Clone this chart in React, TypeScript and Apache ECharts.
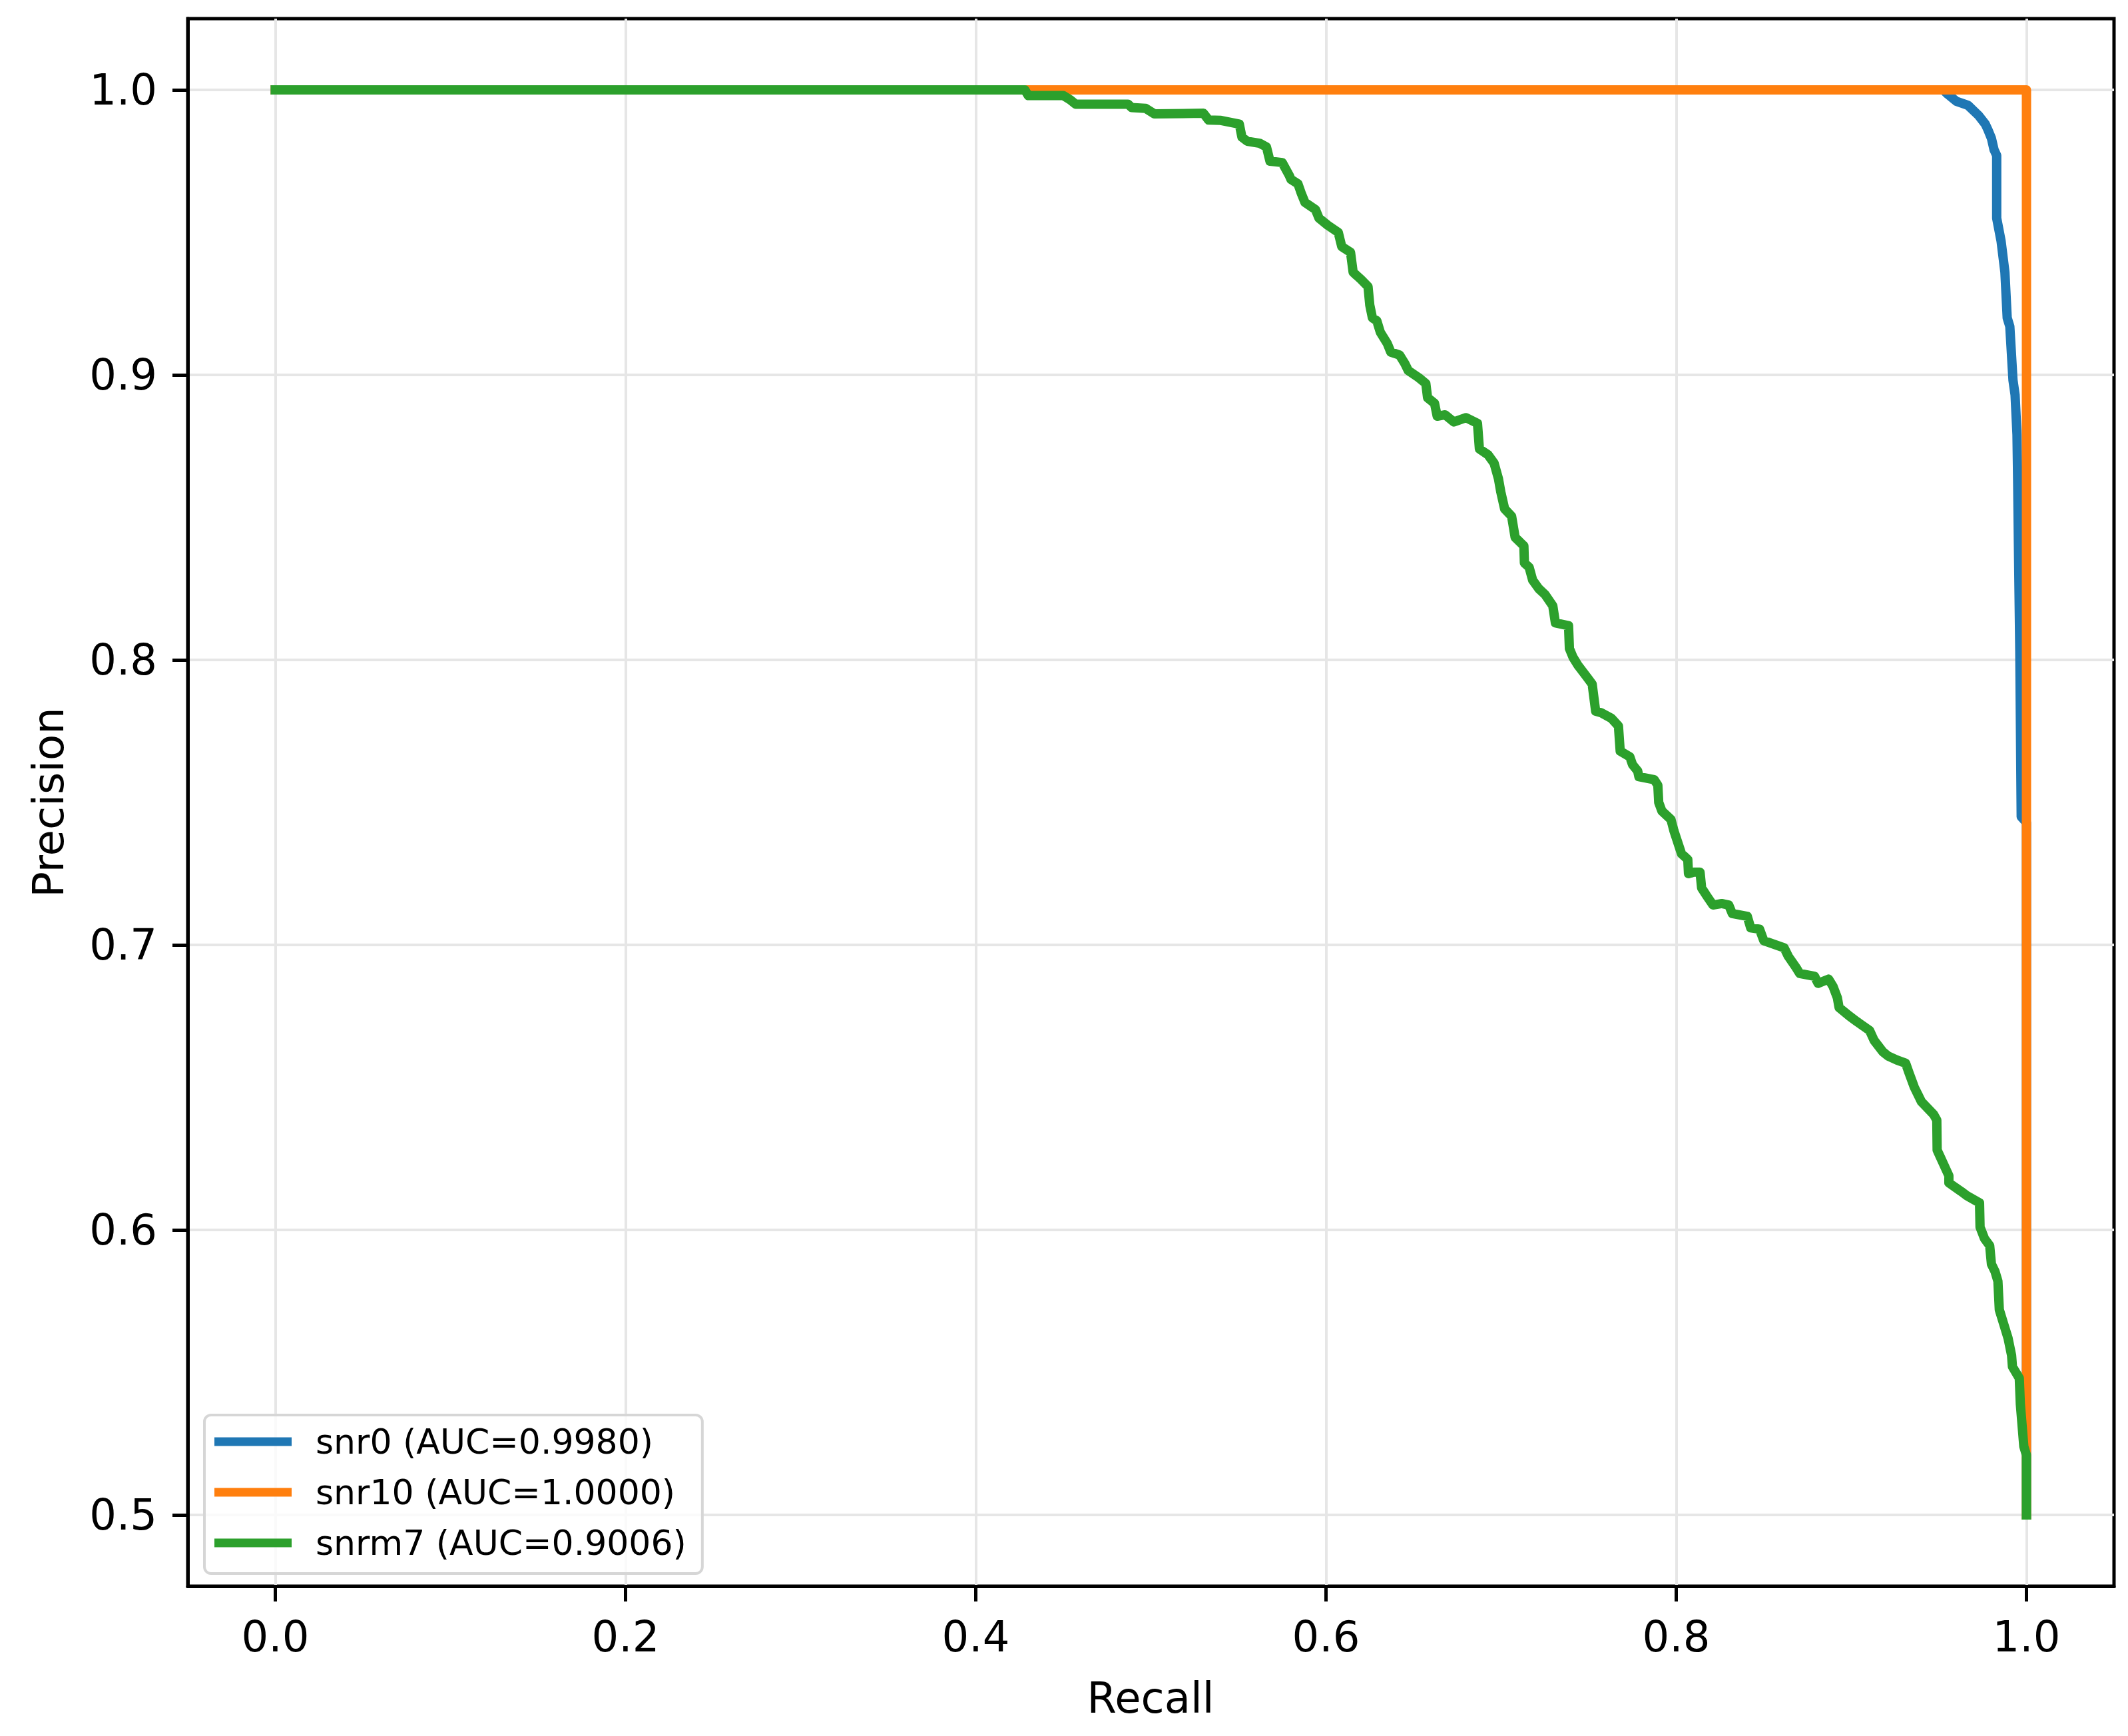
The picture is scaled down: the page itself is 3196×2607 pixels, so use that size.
import React, { useEffect, useRef } from "react";
import * as echarts from "echarts";

const FONT = "DejaVu Sans";

const xTicks = [0, 0.2, 0.4, 0.6, 0.8, 1.0];
const yTicks = [0.5, 0.6, 0.7, 0.8, 0.9, 1.0];

const seriesNames = ["snr0 (AUC=0.9980)", "snr10 (AUC=1.0000)", "snrm7 (AUC=0.9006)"];
const seriesColors = ["#1f77b4", "#ff7f0e", "#2ca02c"];

const snr0Recall = [0, 0.9525, 0.955, 0.96, 0.9666, 0.9727, 0.9765, 0.978, 0.98, 0.9815, 0.983, 0.983, 0.9855, 0.9877, 0.989, 0.9905, 0.9923, 0.9935, 0.9946, 0.995, 0.9954, 0.9962, 0.997, 1.0, 1.0];
const snr0Precision = [1, 1, 0.9985, 0.996, 0.9946, 0.991, 0.988, 0.986, 0.983, 0.979, 0.977, 0.955, 0.947, 0.936, 0.92, 0.917, 0.8982, 0.893, 0.879, 0.862, 0.841, 0.803, 0.745, 0.743, 0.5];

const snr10Recall = [0, 1.0, 1.0];
const snr10Precision = [1.0, 1.0, 0.5];

const snrm7Recall = [
  0, 0.428, 0.43, 0.45, 0.454, 0.457, 0.487, 0.489, 0.497, 0.502, 0.53, 0.533, 0.54, 0.5505,
  0.552, 0.555, 0.562, 0.566, 0.568, 0.575, 0.579, 0.58, 0.584, 0.586, 0.588, 0.594, 0.596,
  0.601, 0.607, 0.609, 0.614, 0.6155, 0.62, 0.624, 0.625, 0.6265, 0.629, 0.631, 0.635, 0.637,
  0.642, 0.645, 0.647, 0.653, 0.657, 0.658, 0.662, 0.6635, 0.668, 0.673, 0.68, 0.6865, 0.6876,
  0.6925, 0.696, 0.6985, 0.6998, 0.702, 0.706, 0.708, 0.713, 0.7133, 0.716, 0.718, 0.7215,
  0.725, 0.7295, 0.731, 0.7385, 0.739, 0.741, 0.744, 0.749, 0.752, 0.754, 0.757, 0.763, 0.767,
  0.768, 0.7735, 0.775, 0.778, 0.7787, 0.7874, 0.7895, 0.79, 0.7918, 0.797, 0.7987, 0.8014,
  0.803, 0.8066, 0.807, 0.81, 0.8136, 0.8145, 0.8171, 0.821, 0.826, 0.83, 0.832, 0.8406, 0.8425,
  0.8476, 0.85, 0.8616, 0.864, 0.8685, 0.8705, 0.879, 0.881, 0.887, 0.8895, 0.892, 0.893, 0.899,
  0.9034, 0.9104, 0.913, 0.918, 0.921, 0.926, 0.931, 0.933, 0.936, 0.938, 0.94, 0.947, 0.9488,
  0.949, 0.9505, 0.9557, 0.9557, 0.9627, 0.966, 0.9732, 0.9735, 0.976, 0.979, 0.98, 0.982,
  0.9837, 0.9845, 0.987, 0.9895, 0.9915, 0.992, 0.9959, 0.9965, 0.9985, 1.0, 1.0,
];
const snrm7Precision = [
  1.0, 1.0, 0.998, 0.998, 0.9965, 0.995, 0.995, 0.9938, 0.9935, 0.9916, 0.9918, 0.9894, 0.9893, 0.988,
  0.9834, 0.982, 0.9813, 0.98, 0.975, 0.9745, 0.97, 0.9686, 0.967, 0.9635, 0.9605, 0.958, 0.955,
  0.9525, 0.95, 0.945, 0.943, 0.936, 0.9335, 0.931, 0.9245, 0.92, 0.919, 0.915, 0.911, 0.908,
  0.907, 0.904, 0.9015, 0.899, 0.897, 0.892, 0.89, 0.8855, 0.886, 0.8835, 0.885, 0.883, 0.874,
  0.872, 0.869, 0.8635, 0.859, 0.853, 0.8504, 0.843, 0.84, 0.834, 0.8325, 0.828, 0.825,
  0.823, 0.819, 0.813, 0.812, 0.804, 0.801, 0.798, 0.794, 0.7915, 0.782, 0.7815, 0.7795, 0.7768,
  0.768, 0.766, 0.7633, 0.761, 0.759, 0.758, 0.756, 0.75, 0.747, 0.744, 0.74, 0.735,
  0.732, 0.73, 0.725, 0.7255, 0.7255, 0.72, 0.7175, 0.714, 0.7145, 0.714, 0.711, 0.71, 0.706,
  0.7055, 0.7015, 0.699, 0.696, 0.692, 0.69, 0.689, 0.6865, 0.688, 0.6855, 0.6815, 0.678, 0.675,
  0.673, 0.67, 0.6665, 0.6625, 0.661, 0.6596, 0.6585, 0.655, 0.65, 0.6475, 0.645, 0.6405, 0.6385,
  0.628, 0.626, 0.619, 0.6165, 0.6135, 0.612, 0.6095, 0.601, 0.597, 0.5945, 0.588, 0.5855,
  0.582, 0.572, 0.567, 0.562, 0.556, 0.552, 0.548, 0.539, 0.524, 0.521, 0.5,
];

const zip = (xs: number[], ys: number[]) => xs.map((x, i) => [x, ys[i]]);

export default function App() {
  const ref = useRef<HTMLDivElement>(null);

  useEffect(() => {
    document.body.style.margin = "0";
    const chart = echarts.init(ref.current!, null, { renderer: "svg" });
    const tickLabel = {
      fontSize: 64,
      fontFamily: FONT,
      color: "#000",
    };
    const makeSeries = (i: number, data: number[][]) => ({
      name: seriesNames[i],
      type: "line",
      data,
      showSymbol: false,
      symbol: "none",
      color: seriesColors[i],
      itemStyle: { color: seriesColors[i] },
      lineStyle: { color: seriesColors[i], width: 14, cap: "square", join: "round" },
      emphasis: { disabled: true },
      silent: true,
      clip: true,
    });
    chart.setOption({
      animation: false,
      backgroundColor: "#ffffff",
      grid: {
        left: 282,
        top: 28,
        width: 2893,
        height: 2354,
        show: true,
        borderColor: "#000",
        borderWidth: 5,
        backgroundColor: "transparent",
        containLabel: false,
      },
      xAxis: {
        type: "value",
        min: -0.05,
        max: 1.05,
        axisLine: { show: true, onZero: false, lineStyle: { color: "#000", width: 5 } },
        axisTick: {
          show: true,
          inside: false,
          length: 23,
          customValues: xTicks,
          lineStyle: { color: "#000", width: 5 },
        },
        axisLabel: {
          ...tickLabel,
          margin: 44,
          customValues: xTicks,
          formatter: (v: number) => v.toFixed(1),
        },
        splitLine: { show: true, lineStyle: { color: "#e6e6e6", width: 4 } },
      },
      yAxis: {
        type: "value",
        min: 0.475,
        max: 1.025,
        axisLine: { show: true, onZero: false, lineStyle: { color: "#000", width: 5 } },
        axisTick: {
          show: true,
          inside: false,
          length: 23,
          customValues: yTicks,
          lineStyle: { color: "#000", width: 5 },
        },
        axisLabel: {
          ...tickLabel,
          margin: 46,
          customValues: yTicks,
          formatter: (v: number) => v.toFixed(1),
        },
        splitLine: { show: true, lineStyle: { color: "#e6e6e6", width: 4 } },
      },
      legend: {
        orient: "vertical",
        left: 307,
        top: 2125,
        data: seriesNames,
        icon: "rect",
        itemWidth: 116,
        itemHeight: 13,
        itemGap: 24,
        padding: [14, 24, 20, 15],
        backgroundColor: "rgba(255,255,255,0.8)",
        borderColor: "#d6d6d6",
        borderWidth: 4,
        borderRadius: 10,
        selectedMode: false,
        textStyle: {
          fontSize: 52,
          fontFamily: FONT,
          color: "#000",
          lineHeight: 50,
          padding: [0, 0, 0, 31],
        },
      },
      graphic: [
        {
          type: "text",
          x: 1728,
          y: 2550,
          silent: true,
          style: {
            text: "Recall",
            fontSize: 64,
            fontFamily: FONT,
            fill: "#000",
            align: "center",
            verticalAlign: "middle",
          },
        },
        {
          type: "text",
          x: 73,
          y: 1205,
          rotation: Math.PI / 2,
          silent: true,
          style: {
            text: "Precision",
            fontSize: 64,
            fontFamily: FONT,
            fill: "#000",
            align: "center",
            verticalAlign: "middle",
          },
        },
      ],
      series: [
        makeSeries(0, zip(snr0Recall, snr0Precision)),
        makeSeries(1, zip(snr10Recall, snr10Precision)),
        makeSeries(2, zip(snrm7Recall, snrm7Precision)),
      ],
    });
    return () => chart.dispose();
  }, []);

  return (
    <div
      ref={ref}
      style={{ position: "absolute", left: 0, top: 0, width: 3196, height: 2607, background: "#fff" }}
    />
  );
}
